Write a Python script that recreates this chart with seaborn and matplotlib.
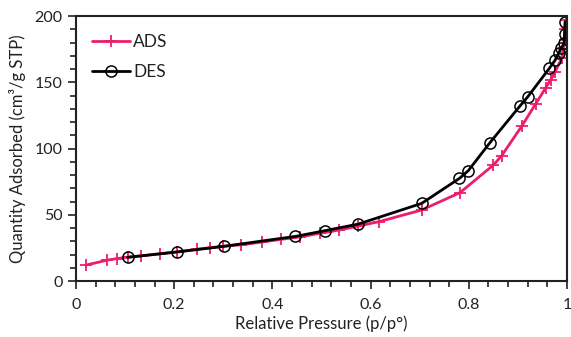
import matplotlib
matplotlib.use("Agg")
import matplotlib.pyplot as plt
import seaborn as sns
import pandas as pd
from matplotlib.ticker import MultipleLocator

ads_x = [0.020, 0.064, 0.084, 0.105, 0.132, 0.171, 0.205, 0.246, 0.273, 0.300, 0.337, 0.378,
         0.418, 0.456, 0.496, 0.536, 0.575, 0.617, 0.704, 0.782, 0.850, 0.867, 0.908, 0.936,
         0.957, 0.967, 0.976, 0.989, 0.993, 0.995, 0.996, 0.997]
ads_y = [12, 15.8, 17, 18, 19, 20.6, 22, 24, 25.2, 26.2, 27.4, 29.4,
         31.5, 33.3, 36, 38.5, 41.5, 44.8, 53.6, 66.7, 87.5, 94.6, 117, 133.6,
         146, 152, 158, 168, 175, 182, 190, 197]

des_x = [0.105, 0.205, 0.301, 0.447, 0.507, 0.575, 0.704, 0.781, 0.799, 0.843, 0.904,
         0.920, 0.964, 0.976, 0.983, 0.988, 0.994, 0.995, 0.995, 0.996, 0.996]
des_y = [17.9, 21.9, 26.2, 33.7, 38, 43, 58.6, 77.5, 83.3, 104.4, 132,
         139, 160.5, 166.8, 171.8, 175.6, 179.4, 184.4, 188.2, 193.2, 198.2]

sns.set_style("ticks")
plt.rcParams['font.family'] = ['Lato', 'DejaVu Sans']

fig = plt.figure(figsize=(5.71, 3.37), dpi=100)
ax = fig.add_axes([0.133, 0.166, 0.86, 0.7865])

ads = pd.DataFrame({"x": ads_x, "y": ads_y})
des = pd.DataFrame({"x": des_x, "y": des_y})

sns.lineplot(data=ads, x="x", y="y", sort=False, ax=ax, color="#EE1C6C", lw=2,
             marker="+", markersize=8, markeredgewidth=1.3, markeredgecolor="#EE1C6C",
             label="ADS")
sns.lineplot(data=des, x="x", y="y", sort=False, ax=ax, color="black", lw=2,
             marker="o", markersize=8, markerfacecolor="none", markeredgecolor="black",
             markeredgewidth=1.1, label="DES")

ax.set_xlim(0, 1)
ax.set_ylim(0, 200)
ax.xaxis.set_major_locator(MultipleLocator(0.2))
ax.xaxis.set_minor_locator(MultipleLocator(0.04))
ax.yaxis.set_major_locator(MultipleLocator(50))
ax.yaxis.set_minor_locator(MultipleLocator(10))
ax.set_xticks([0, 0.2, 0.4, 0.6, 0.8, 1.0])
ax.set_xticklabels(["0", "0.2", "0.4", "0.6", "0.8", "1"])
ax.tick_params(which="major", length=6, width=1.3, labelsize=11.5, direction="out",
               color="#333333", labelcolor="#222222")
ax.tick_params(axis="x", which="major", pad=6)
ax.tick_params(which="minor", length=4, width=1.3, direction="out", color="#333333")
for s in ax.spines.values():
    s.set_linewidth(1.5)
    s.set_color("#222222")

ax.set_xlabel("Relative Pressure (p/p°)", fontsize=12, color="#222222", labelpad=3)
ax.set_ylabel("Quantity Adsorbed (cm³/g STP)", fontsize=12, color="#222222", labelpad=6)

leg = ax.legend(loc="upper left", frameon=False, fontsize=12.5, handlelength=2.2,
                handletextpad=0.2, labelspacing=0.8, bbox_to_anchor=(0.0, 0.99))
for t in leg.get_texts():
    t.set_color("#222222")

fig.savefig("out.png", dpi=100)
